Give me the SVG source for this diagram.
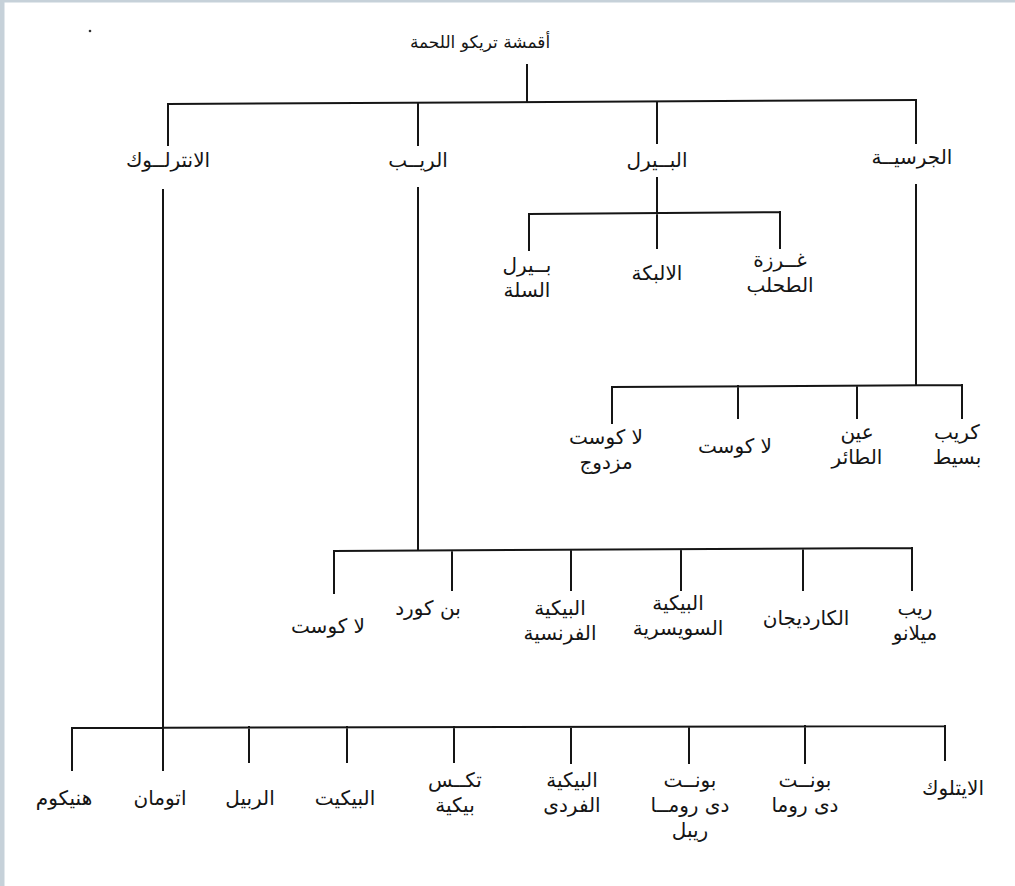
<svg xmlns="http://www.w3.org/2000/svg" width="1015" height="886" viewBox="0 0 1015 886">
<style>
.t{font-family:"DejaVu Sans","Noto Sans",sans-serif;font-size:20px;fill:#151515;text-anchor:middle}
.r{font-size:17px}
.c{stroke:#151515;stroke-width:2;fill:none;stroke-linecap:square}
</style>
<rect x="0" y="0" width="1015" height="886" fill="#ffffff"/>
<rect x="0" y="0" width="1015" height="2.5" fill="#c6d1d9"/>
<rect x="0" y="0" width="4.5" height="886" fill="#c6d1d9"/>
<circle cx="90" cy="31" r="1.3" fill="#333"/>

<g id="connectors">
  <path class="c" d="M527 65V102"/>
  <path class="c" d="M168 104L916 100"/>
  <path class="c" d="M168 104V145M418 103V145M657 102V143M916 100V143"/>
  <path class="c" d="M657 178V248M529 214L780 212M529 214V250M780 212V248"/>
  <path class="c" d="M916 185V385M612 387L962 385M612 387V423M738 386V418M857 386V418M962 385V418"/>
  <path class="c" d="M418 188V549M334 551L912 548M334 551V593M452 551V590M571 550V590M681 550V590M803 549V590M912 548V590"/>
  <path class="c" d="M163 190V770M72 728L945 726M72 728V770M249 727V762M347 727V762M454 727V762M571 727V763M689 727V763M805 726V763M945 726V760"/>
</g>

<g id="root"><text class="t r" x="480" y="48">أقمشة تريكو اللحمة</text></g>

<g id="interlock"><text class="t" x="168" y="167">الانترلــوك</text></g>
<g id="rib"><text class="t" x="418" y="167">الريــب</text></g>
<g id="pearl"><text class="t" x="657" y="167">البــيرل</text></g>
<g id="jersey"><text class="t" x="912" y="164">الجرسيــة</text></g>

<g id="pearl-basket"><text class="t" x="527" y="272">بــيرل</text><text class="t" x="527" y="297">السلة</text></g>
<g id="pearl-alpaca"><text class="t" x="657" y="280">الالبكة</text></g>
<g id="pearl-moss"><text class="t" x="780" y="267">غــرزة</text><text class="t" x="780" y="292">الطحلب</text></g>

<g id="jersey-double-lacoste"><text class="t" x="606" y="444">لا كوست</text><text class="t" x="606" y="469">مزدوج</text></g>
<g id="jersey-lacoste"><text class="t" x="735" y="453">لا كوست</text></g>
<g id="jersey-birdseye"><text class="t" x="857" y="439">عين</text><text class="t" x="857" y="464">الطائر</text></g>
<g id="jersey-crepe"><text class="t" x="957" y="439">كريب</text><text class="t" x="957" y="464">بسيط</text></g>

<g id="rib-lacoste"><text class="t" x="328" y="633">لا كوست</text></g>
<g id="rib-pincord"><text class="t" x="428" y="615">بن كورد</text></g>
<g id="rib-french-pique"><text class="t" x="560" y="615">البيكية</text><text class="t" x="560" y="640">الفرنسية</text></g>
<g id="rib-swiss-pique"><text class="t" x="678" y="610">البيكية</text><text class="t" x="678" y="635">السويسرية</text></g>
<g id="rib-cardigan"><text class="t" x="806" y="625">الكارديجان</text></g>
<g id="rib-milano"><text class="t" x="915" y="615">ريب</text><text class="t" x="915" y="640">ميلانو</text></g>

<g id="il-honeycomb"><text class="t" x="64" y="805">هنيكوم</text></g>
<g id="il-ottoman"><text class="t" x="160" y="805">اتومان</text></g>
<g id="il-ripple"><text class="t" x="250" y="805">الربيل</text></g>
<g id="il-piquet"><text class="t" x="345" y="805">البيكيت</text></g>
<g id="il-texpique"><text class="t" x="455" y="787">تكــس</text><text class="t" x="455" y="812">بيكية</text></g>
<g id="il-single-pique"><text class="t" x="572" y="787">البيكية</text><text class="t" x="572" y="812">الفردى</text></g>
<g id="il-ponte-rib"><text class="t" x="690" y="787">بونــت</text><text class="t" x="690" y="812">دى رومــا</text><text class="t" x="690" y="837">ريبل</text></g>
<g id="il-ponte"><text class="t" x="805" y="787">بونــت</text><text class="t" x="805" y="812">دى روما</text></g>
<g id="il-eightlock"><text class="t" x="953" y="795">الايتلوك</text></g>
</svg>
